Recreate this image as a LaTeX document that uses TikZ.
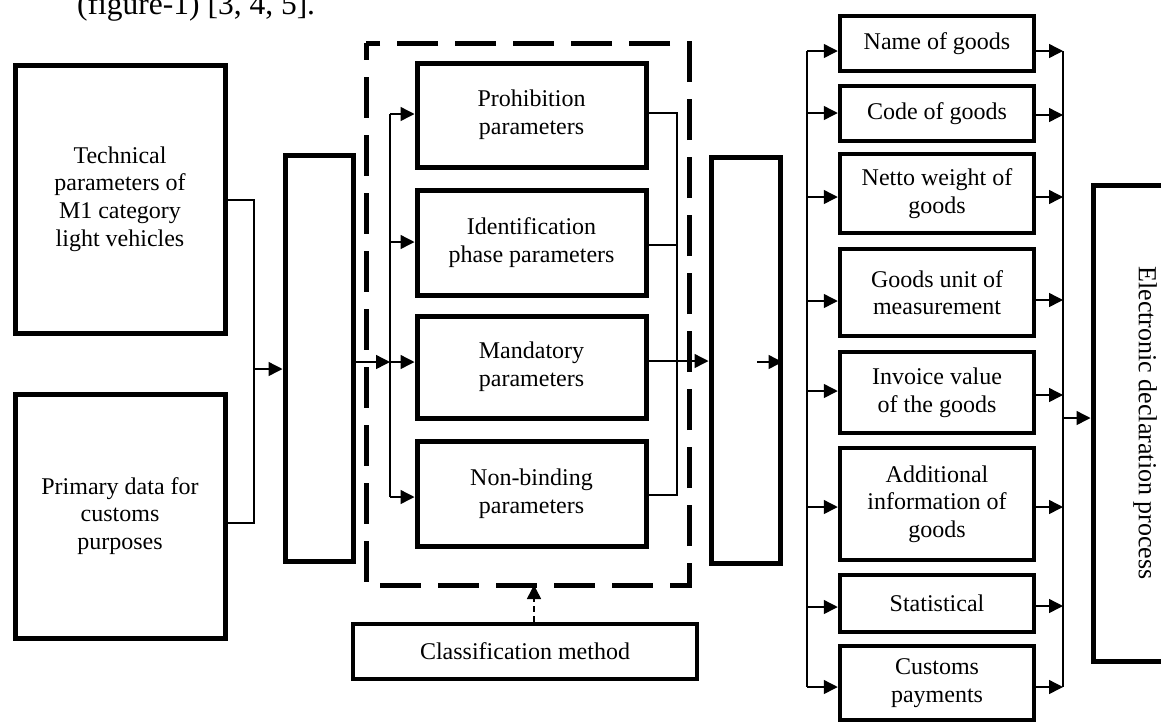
\documentclass[tikz,border=0pt]{standalone}
\usepackage{fontspec}
\setmainfont{Liberation Serif}
\usetikzlibrary{arrows.meta}
\newcommand\diagfont{\fontsize{24}{27.6}\selectfont}
\begin{document}
\begin{tikzpicture}[x=1pt,y=-1pt,
  box/.style={draw, line width=5pt, inner sep=2pt, align=center, font=\diagfont},
  gbox/.style={box, line width=4.5pt, minimum width=194pt},
  ibox/.style={box, minimum width=229pt},
  conn/.style={line width=1.4pt},
  arr/.style={conn, -{Triangle[length=14pt,width=14pt]}},
  dashbox/.style={line width=5pt, dash pattern=on 41pt off 17pt, dash phase=24pt},
  dasharr/.style={line width=1.6pt, dash pattern=on 6pt off 4pt, -{Triangle[length=14pt,width=14pt]}}
]
\useasboundingbox (0,0) rectangle (1161,724);
\clip (0,0) rectangle (1161,724);

% caption fragment
\node[anchor=base west, inner sep=0pt, font=\fontsize{31.5}{36}\selectfont] (cap) at (77,14) {(figure-1) [3, 4, 5].};

% left boxes
\node[box, minimum width=210pt, minimum height=268pt] (tech) at (120,199) {Technical\\parameters of\\M1 category\\light vehicles};
\node[box, minimum width=210pt, minimum height=244pt] (prim) at (120,516) {Primary data for\\customs\\purposes};
\node[box, minimum width=68pt, minimum height=406pt] (b2) at (319,358) {};

% dashed group
\coordinate (d1) at (366,43);
\coordinate (d2) at (689,585);
\draw[dashbox] (d1) rectangle (d2);

\node[ibox, minimum height=104pt] (pro) at (531.5,115) {Prohibition\\parameters};
\node[ibox, minimum height=105pt] (ide) at (531.5,242.5) {Identification\\phase parameters};
\node[ibox, minimum height=102pt] (man) at (531.5,367) {Mandatory\\parameters};
\node[ibox, minimum height=105pt] (non) at (531.5,493.5) {Non-binding\\parameters};

\node[box, line width=4.5pt, minimum width=344pt, minimum height=55pt] (cls) at (525,651.5) {Classification method};

\node[box, minimum width=69pt, minimum height=406pt] (b3) at (745.5,360) {};

% goods boxes
\node[gbox, minimum height=55pt] (g1) at (937,43.5) {Name of goods};
\node[gbox, minimum height=55pt] (g2) at (937,113.5) {Code of goods};
\node[gbox, minimum height=79pt] (g3) at (937,193.5) {Netto weight of\\goods};
\node[gbox, minimum height=87pt] (g4) at (937,292.5) {Goods unit of\\measurement};
\node[gbox, minimum height=81pt] (g5) at (937,392.5) {Invoice value\\of the goods};
\node[gbox, minimum height=112pt] (g6) at (937,504) {Additional\\information of\\goods};
\node[gbox, minimum height=57pt] (g7) at (937,603.5) {Statistical};
\node[gbox, minimum height=74pt] (g8) at (937,683) {Customs\\payments};

\node[box, rotate=-90, minimum width=476pt, minimum height=104pt, font=\fontsize{26}{30}\selectfont] (elec) at (1145,423) {Electronic declaration process};

% left connectors
\coordinate (t1) at (254,200);
\coordinate (t2) at (254,523);
\coordinate (t3) at (254,369);
\draw[conn] (t1 -| tech.east) -- (t1) -- (t2) -- (t2 -| prim.east);
\draw[arr] (t3) -- (t3 -| b2.west);

% left bus into inner boxes
\coordinate (lb1) at (390,114);
\coordinate (lb2) at (390,242);
\coordinate (lb3) at (390,362);
\coordinate (lb4) at (390,497);
\draw[arr] (lb3 -| b2.east) -- (lb3);
\draw[conn] (lb1) -- (lb4);
\draw[arr] (lb1) -- (lb1 -| pro.west);
\draw[arr] (lb2) -- (lb2 -| ide.west);
\draw[arr] (lb3) -- (lb3 -| man.west);
\draw[arr] (lb4) -- (lb4 -| non.west);

% right bus of inner boxes
\coordinate (rb1) at (677,113);
\coordinate (rb2) at (677,245);
\coordinate (rb3) at (677,361);
\coordinate (rb4) at (677,495);
\draw[conn] (rb1 -| pro.east) -- (rb1) -- (rb4) -- (rb4 -| non.east);
\draw[conn] (rb2 -| ide.east) -- (rb2);
\draw[conn] (rb3 -| man.east) -- (rb3);
\draw[arr] (rb3) -- (rb3 -| b3.west);

% classification arrow
\coordinate (ca) at (534,0);
\draw[dasharr] (ca |- cls.north) -- (ca |- d2);

% arrow inside box 3
\coordinate (b3a) at (757,362);
\draw[arr] (b3a) -- (b3a -| b3.east);

% goods left bus
\coordinate (gl1) at (807,51);
\coordinate (gl2) at (807,113);
\coordinate (gl3) at (807,197);
\coordinate (gl4) at (807,301);
\coordinate (gl5) at (807,391);
\coordinate (gl6) at (807,507);
\coordinate (gl7) at (807,607);
\coordinate (gl8) at (807,687);
\draw[conn] (gl1) -- (gl8);
\foreach \i in {1,...,8} {\draw[arr] (gl\i) -- (gl\i -| g\i.west);}

% goods right bus
\coordinate (gr1) at (1063,51);
\coordinate (gr2) at (1063,115);
\coordinate (gr3) at (1063,197);
\coordinate (gr4) at (1063,300);
\coordinate (gr5) at (1063,395);
\coordinate (gr6) at (1063,507);
\coordinate (gr7) at (1063,606);
\coordinate (gr8) at (1063,687);
\draw[conn] (gr1) -- (gr8);
\foreach \i in {1,...,8} {\draw[arr] (gr\i -| g\i.east) -- (gr\i);}

\coordinate (ge) at (1063,418);
\draw[arr] (ge) -- (ge -| elec.south);
\end{tikzpicture}
\end{document}
